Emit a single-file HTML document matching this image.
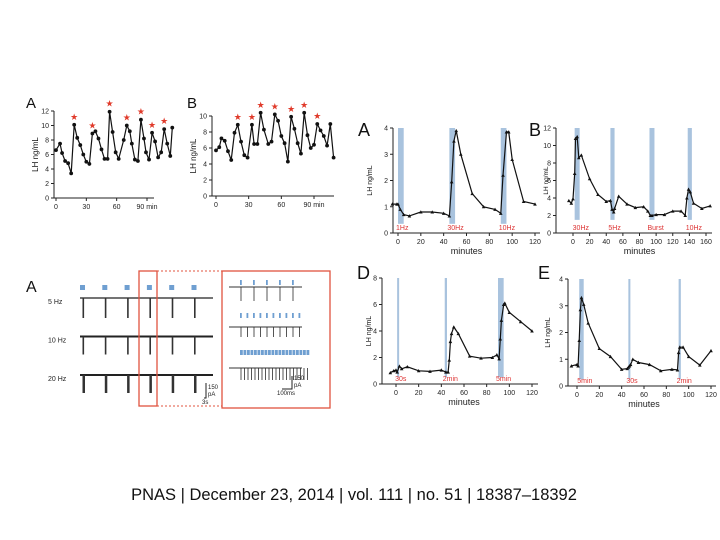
<!DOCTYPE html>
<html><head><meta charset="utf-8"><style>
body{margin:0;background:#fff;}
svg{display:block;font-family:"Liberation Sans",sans-serif;}
</style></head><body>
<svg id="s" width="720" height="540">
<text x="354" y="500" text-anchor="middle" font-size="16.5" fill="#111">PNAS | December 23, 2014 | vol. 111 | no. 51 | 18387–18392</text>
</svg>
<script>
// ---- data ----
const pA_t=[0,4,6,9,12,15,18,21,24,27,30,33,36,39,42,45,48,51,53,56,59,62,67,70,73,75,78,81,84,87,89,92,95,98,101,104,107,110,113,115];
const pA_v=[6.6,7.5,6.2,5.1,4.8,3.4,10.1,8.3,7.3,6.0,5.0,4.7,8.9,9.2,8.2,6.7,5.4,5.4,11.9,9.1,6.3,5.4,8.0,10.0,9.2,7.5,5.3,5.1,10.8,8.2,6.3,5.3,9.0,7.8,5.6,6.3,9.5,7.5,5.8,9.7];
const pA_stars=[6,12,18,23,28,32,36];
const pB_t=[0,3,5,8,11,14,17,20,23,26,29,33,35,38,41,44,48,51,54,57,60,63,66,69,72,75,78,81,84,87,90,93,96,99,102,105,108];
const pB_v=[5.7,6.1,7.2,6.9,5.6,4.5,7.9,8.9,6.8,5.1,4.8,8.9,6.5,6.5,10.4,8.3,6.5,6.8,10.2,9.4,7.5,6.6,4.3,9.9,8.4,6.6,5.3,10.4,7.6,6.0,6.4,9.0,8.2,7.5,6.3,9.0,4.8];
const pB_stars=[7,11,14,18,23,27,31];
const rA_t=[-5,-1,0,2,5,10,20,30,40,45,47,49,51,55,65,75,85,90,92,95,97,100,110,120];
const rA_v=[1.1,1.1,1.1,0.9,0.7,0.65,0.8,0.8,0.75,0.65,1.95,3.5,3.9,3.0,1.5,1.0,0.9,0.75,2.2,3.85,3.85,2.8,1.2,1.1];
const rB_t=[-5,-2,0,2,3,5,7,10,20,30,40,45,47,49,50,55,65,75,85,90,93,95,100,110,120,130,135,137,139,141,145,155,165];
const rB_v=[3.7,3.4,3.9,6.8,10.8,11,8.6,8.9,6.2,4.4,3.6,3.7,2.7,2.4,2.8,4.2,3.3,2.9,3.0,2.5,2.0,2.0,2.1,2.1,2.5,2.5,2.0,4.0,5.0,4.7,3.4,2.8,3.1];
const rD_t=[-5,-2,0,1,3,5,10,20,30,40,44,46,47,48,49,51,55,65,75,85,89,91,92,93,95,96,100,110,120];
const rD_v=[0.85,1.0,1.05,0.9,1.35,1.15,1.3,1.0,0.95,1.05,0.9,0.9,1.8,3.2,3.8,4.3,3.8,2.1,1.95,2.0,2.2,1.9,3.4,4.8,6.0,6.1,5.4,4.7,4.0];
const rE_t=[-5,0,1,2,3,4,6,10,20,30,40,45,46,47,48,50,55,65,75,85,90,91,92,95,100,110,120];
const rE_v=[0.75,0.8,0.75,1.7,2.85,3.3,3.05,2.35,1.4,1.1,0.62,0.65,0.7,0.75,0.8,1.0,0.88,0.8,0.57,0.62,0.6,1.25,1.45,1.45,1.1,0.78,1.32];
const ephysFreq=["5 Hz","10 Hz","20 Hz"];
const stimX=[0,1,2,3,4,5];

const S=document.getElementById('s');const NS='http://www.w3.org/2000/svg';
function el(t,a,p){const e=document.createElementNS(NS,t);for(const k in a)e.setAttribute(k,a[k]);(p||S).appendChild(e);return e;}
function txt(x,y,s,size,fill,anchor,rot){const e=el('text',{x:x,y:y,'font-size':size,fill:fill||'#111','text-anchor':anchor||'start'});if(rot)e.setAttribute('transform','rotate(-90 '+x+' '+y+')');e.textContent=s;return e;}

function chart(o){
  const g=el('g',{});
  
  
  const X=v=>o.x0+(v-o.xmin)*(o.x1-o.x0)/(o.xmax-o.xmin);
  const Y=v=>o.y0-(v)*(o.y0-o.y1)/o.ymax;
  (o.bars||[]).forEach((b,i)=>{const r=el('rect',{x:X(b[0]),y:Y(o.ymax),width:Math.max(2,X(b[1])-X(b[0])),height:Y(b[2])-Y(o.ymax),fill:'#a9c3de'},g);
    
    if(o.blabels){const t=txt(X(b[0])-2,Y(0)-3,o.blabels[i],7,'#d33','start');g.appendChild(t);}});
  el('line',{x1:o.ax,y1:o.y0,x2:o.ax,y2:Y(o.ymax),stroke:'#222','stroke-width':1},g);
  el('line',{x1:o.ax,y1:o.y0,x2:o.xend,y2:o.y0,stroke:'#222','stroke-width':1},g);
  o.yt.forEach(v=>{el('line',{x1:o.ax-3,y1:Y(v),x2:o.ax,y2:Y(v),stroke:'#222'},g);g.appendChild(txt(o.ax-5,Y(v)+2.5,String(v),o.fs,'#222','end'));});
  o.xt.forEach((v,i)=>{el('line',{x1:X(v),y1:o.y0,x2:X(v),y2:o.y0+3,stroke:'#222'},g);g.appendChild(txt(X(v),o.y0+11,o.xl?o.xl[i]:String(v),o.fs,'#222','middle'));});
  let d='';o.t.forEach((t,i)=>{d+=(i?'L':'M')+X(t).toFixed(1)+','+Y(o.v[i]).toFixed(1);});
  el('path',{d:d,fill:'none',stroke:'#111','stroke-width':1.2},g);
  o.t.forEach((t,i)=>{
    if(o.tri){const c=el('path',{d:`M${X(t)-1.8},${Y(o.v[i])+1.5}L${X(t)+1.8},${Y(o.v[i])+1.5}L${X(t)},${Y(o.v[i])-1.8}Z`,fill:'#111'},g);}
    else{const c=el('circle',{cx:X(t),cy:Y(o.v[i]),r:1.9,fill:'#111'},g);}
  });
  (o.stars||[]).forEach(i=>{const s=txt(X(o.t[i]),Y(o.v[i])-5,'★',9,'#e03a2a','middle');g.appendChild(s);});
  g.appendChild(txt(o.ylx,(o.y0+Y(o.ymax))/2,'LH ng/mL',o.ylfs,'#111','middle',true));
  if(o.xlabel)g.appendChild(txt((o.x0+o.x1)/2,o.y0+21,o.xlabel,9,'#222','middle'));
  g.appendChild(txt(o.lx,o.ly,o.letter,o.lfs,'#111','start'));
}
chart({name:'chart-top-a',t:pA_t,v:pA_v,stars:pA_stars,x0:56,x1:147,xmin:0,xmax:90,y0:198,y1:111,ymax:12,ax:54,xend:154,yt:[0,2,4,6,8,10,12],xt:[0,30,60,90],xl:['0','30','60','90 min'],fs:7,ylx:38,ylfs:8,lx:26,ly:108,letter:'A',lfs:15});
chart({name:'chart-top-b',t:pB_t,v:pB_v,stars:pB_stars,x0:216,x1:314,xmin:0,xmax:90,y0:196,y1:116,ymax:10,ax:212,xend:334,yt:[0,2,4,6,8,10],xt:[0,30,60,90],xl:['0','30','60','90 min'],fs:7,ylx:196,ylfs:8,lx:187,ly:108,letter:'B',lfs:15});
chart({name:'chart-right-a',tri:1,t:rA_t,v:rA_v,x0:398,x1:535,xmin:0,xmax:120,y0:233,y1:128,ymax:4,ax:393,xend:540,yt:[0,1,2,3,4],xt:[0,20,40,60,80,100,120],fs:7,xlabel:'minutes',ylx:372,ylfs:7,lx:358,ly:136,letter:'A',lfs:18,
  bars:[[0,5,0.35],[45,50,0.35],[90,95,0.35]],blabels:['1Hz','30Hz','10Hz']});
chart({name:'chart-right-b',tri:1,t:rB_t,v:rB_v,x0:573,x1:706,xmin:0,xmax:160,y0:233,y1:128,ymax:12,ax:556,xend:712,yt:[0,2,4,6,8,10,12],xt:[0,20,40,60,80,100,120,140,160],fs:7,xlabel:'minutes',ylx:548,ylfs:6.5,lx:529,ly:136,letter:'B',lfs:18,
  bars:[[2,8,1.5],[45,50,1.5],[92,98,1.5],[138,143,1.5]],blabels:['30Hz','5Hz','Burst','10Hz']});
chart({name:'chart-right-d',tri:1,t:rD_t,v:rD_v,x0:396,x1:532,xmin:0,xmax:120,y0:384,y1:278,ymax:8,ax:382,xend:538,yt:[0,2,4,6,8],xt:[0,20,40,60,80,100,120],fs:7,xlabel:'minutes',ylx:371,ylfs:7,lx:357,ly:279,letter:'D',lfs:18,
  bars:[[1,2,0.5],[43,45,0.5],[90,95,0.5]],blabels:['30s','2min','5min']});
chart({name:'chart-right-e',tri:1,t:rE_t,v:rE_v,x0:577,x1:711,xmin:0,xmax:120,y0:386,y1:279,ymax:4,ax:568,xend:716,yt:[0,1,2,3,4],xt:[0,20,40,60,80,100,120],fs:7,xlabel:'minutes',ylx:550,ylfs:7,lx:538,ly:279,letter:'E',lfs:18,
  bars:[[2,6,0.25],[46,47,0.25],[91,93,0.25]],blabels:['5min','30s','2min']});

// ephys panel
const eg=el('g',{});
eg.appendChild(txt(26,292,'A',16,'#111'));
stimX.forEach(i=>{const r=el('rect',{x:80+i*22.3,y:285,width:5,height:5,fill:'#6f9fd1'},eg);});
ephysFreq.forEach((f,k)=>{const y=298+k*38.5;eg.appendChild(txt(48,y+6,f,7,'#222'));
  el('line',{x1:80,y1:y,x2:213,y2:y,stroke:'#222','stroke-width':k?2:1.3},eg);
  stimX.forEach(i=>{el('rect',{x:82.5+i*22.3,y:y,width:k==2?2.5:1.6,height:k==0?20:18,fill:'#333'},eg);});});
el('path',{d:'M206,383v15h-2',stroke:'#222',fill:'none'},eg);
eg.appendChild(txt(208,389,'150',6,'#222'));eg.appendChild(txt(208,396,'pA',6,'#222'));eg.appendChild(txt(202,404,'3s',6,'#222'));
el('rect',{x:139,y:271,width:18,height:135,fill:'none',stroke:'#e0533f','stroke-width':1.3},eg);
el('line',{x1:157,y1:271,x2:222,y2:271,stroke:'#e0533f','stroke-dasharray':'2,2'},eg);
el('line',{x1:157,y1:406,x2:222,y2:406,stroke:'#e0533f','stroke-dasharray':'2,2'},eg);
el('rect',{x:222,y:271,width:108,height:137,fill:'none',stroke:'#e0533f','stroke-width':1.3},eg);
[[5,285,287,13],[10,318,327,6.5],[20,355,368,3.5]].forEach(r=>{const n=r[0],sp=r[3];for(let i=0;i<n;i++){
  el('rect',{x:240+i*sp,y:r[1]-5,width:n==20?2.8:1.8,height:5,fill:'#6f9fd1'},eg);
  el('line',{x1:241+i*sp,y1:r[2],x2:241+i*sp,y2:r[2]+(n==20?12:n==10?10:14),stroke:'#555'},eg);}
  el('line',{x1:229,y1:r[2],x2:302,y2:r[2],stroke:'#333'},eg);});
el('path',{d:'M292,376v13h-10',stroke:'#222',fill:'none'},eg);
eg.appendChild(txt(294,380,'150',6,'#222'));eg.appendChild(txt(294,387,'pA',6,'#222'));eg.appendChild(txt(277,395,'100ms',6,'#222'));
</script>
</body></html>
